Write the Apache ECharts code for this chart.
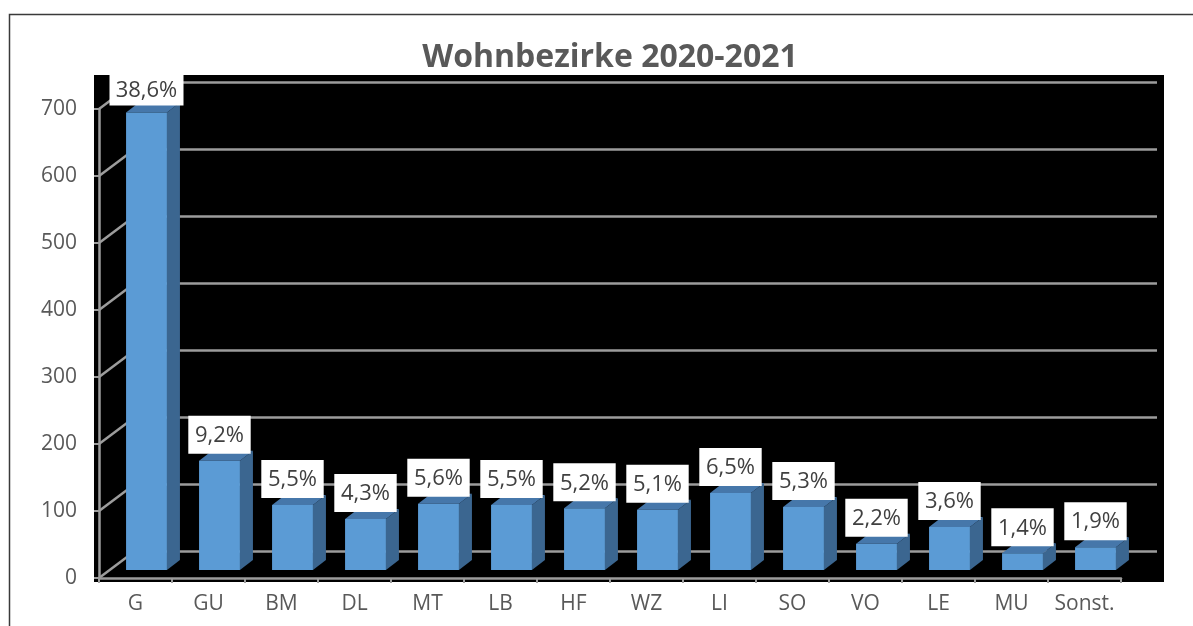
<!DOCTYPE html>
<html>
<head>
<meta charset="utf-8">
<script src="https://cdn.jsdelivr.net/npm/echarts@6/dist/echarts.min.js"></script>
<style>
  html, body { margin: 0; padding: 0; background: #ffffff; }
  #chart { width: 1193px; height: 626px; }
</style>
</head>
<body>
<div id="chart"></div>
<script>
// ---- data ----
const categories = ['G', 'GU', 'BM', 'DL', 'MT', 'LB', 'HF', 'WZ', 'LI', 'SO', 'VO', 'LE', 'MU', 'Sonst.'];
const values = [683, 163, 97, 76, 99, 97, 92, 90, 115, 94, 39, 64, 25, 34];
const pctLabels = ['38,6%', '9,2%', '5,5%', '4,3%', '5,6%', '5,5%', '5,2%', '5,1%', '6,5%', '5,3%', '2,2%', '3,6%', '1,4%', '1,9%'];
const yTicks = [0, 100, 200, 300, 400, 500, 600, 700];
const titleText = 'Wohnbezirke 2020-2021';

// ---- layout / style constants ----
const FONT = '"Open Sans", "Noto Sans", sans-serif';
const GRID_COLOR = '#9c9c9c';
const WALL_DX = 36, WALL_DY = -27;      // back wall offset
const BAR_DX = 11, BAR_DY = -8;          // bar front face offset
const BAR_DEPTH_X = 13, BAR_DEPTH_Y = -10;
const BAR_FRAC = 0.56;

const chart = echarts.init(document.getElementById('chart'), null, { renderer: 'canvas' });

const option = {
  animation: false,
  backgroundColor: '#ffffff',
  title: {
    text: titleText,
    left: 605,
    top: 37,
    textAlign: 'center',
    textStyle: { color: '#595959', fontFamily: FONT, fontWeight: 'bold', fontSize: 32 }
  },
  graphic: [
    { type: 'rect', z: -10, silent: true,
      shape: { x: 9.5, y: 14.5, width: 1300, height: 700 },
      style: { fill: '#ffffff', stroke: '#3a3a3a', lineWidth: 1.5 } },
    { type: 'rect', z: -9, silent: true,
      shape: { x: 94, y: 75, width: 1070, height: 507 },
      style: { fill: '#000000' } }
  ],
  grid: [
    { left: 99, right: 72, top: 109, bottom: 48 },
    { left: 99 + WALL_DX, right: 72 - WALL_DX, top: 109 + WALL_DY, bottom: 48 - WALL_DY }
  ],
  xAxis: [
    {
      type: 'category', gridIndex: 0, data: categories,
      axisLine: { show: true, lineStyle: { color: GRID_COLOR, width: 2.5 } },
      axisTick: { show: true, length: 5, lineStyle: { color: GRID_COLOR, width: 2 } },
      axisLabel: { color: '#595959', fontFamily: FONT, fontSize: 21, margin: 16, interval: 0 },
      splitLine: { show: false }
    },
    {
      type: 'category', gridIndex: 1, data: categories, show: false
    }
  ],
  yAxis: [
    {
      type: 'value', gridIndex: 0, min: 0, max: 700, interval: 100,
      axisLine: { show: true, lineStyle: { color: GRID_COLOR, width: 2.5 } },
      axisTick: { show: true, length: 5, lineStyle: { color: GRID_COLOR, width: 2 } },
      axisLabel: { color: '#595959', fontFamily: FONT, fontSize: 21, margin: 22 },
      splitLine: { show: false }
    },
    {
      type: 'value', gridIndex: 1, min: 0, max: 700, interval: 100,
      axisLine: { show: false }, axisTick: { show: false }, axisLabel: { show: false },
      splitLine: { show: true, lineStyle: { color: GRID_COLOR, width: 2.5 } }
    }
  ],
  series: [
    {
      // left wall diagonals joining front axis ticks to the back wall grid lines
      type: 'custom', xAxisIndex: 0, yAxisIndex: 0, z: 2, clip: false, silent: true,
      data: yTicks.map(v => [0, v]),
      renderItem: function (params, api) {
        const p = api.coord([0, api.value(1)]);
        const left = p[0] - api.size([1, 0])[0] / 2;
        return {
          type: 'line',
          shape: { x1: left, y1: p[1], x2: left + WALL_DX, y2: p[1] + WALL_DY },
          style: { stroke: GRID_COLOR, lineWidth: 2.5 }
        };
      }
    },
    {
      // 3D bars with percentage labels
      type: 'custom', xAxisIndex: 0, yAxisIndex: 0, z: 5, clip: false, silent: true,
      data: values.map((v, i) => [i, v]),
      renderItem: function (params, api) {
        const i = api.value(0);
        const v = api.value(1);
        const p0 = api.coord([i, 0]);
        const p1 = api.coord([i, v]);
        const w = api.size([1, 0])[0] * BAR_FRAC;
        const xl = p0[0] + BAR_DX - w / 2;
        const xr = xl + w;
        const yb = p0[1] + BAR_DY;
        const yt = p1[1] + BAR_DY;
        const lab = pctLabels[params.dataIndex];
        const labelBottom = yt - 7;
        const boxH = 38;
        const labelTop = Math.max(labelBottom - boxH, 75);
        return {
          type: 'group',
          children: [
            { type: 'polygon',
              shape: { points: [[xr, yt], [xr + BAR_DEPTH_X, yt + BAR_DEPTH_Y], [xr + BAR_DEPTH_X, yb + BAR_DEPTH_Y], [xr, yb]] },
              style: { fill: '#3b6690' } },
            { type: 'polygon',
              shape: { points: [[xl, yt], [xr, yt], [xr + BAR_DEPTH_X, yt + BAR_DEPTH_Y], [xl + BAR_DEPTH_X, yt + BAR_DEPTH_Y]] },
              style: { fill: '#4677aa' } },
            { type: 'rect',
              shape: { x: xl, y: yt, width: w, height: yb - yt },
              style: { fill: '#5b9bd5' } },
            { type: 'rect', z2: 9,
              shape: { x: (xl + xr) / 2 - (lab.length * 11.6 + 16) / 2, y: labelTop,
                       width: lab.length * 11.6 + 16, height: labelBottom - labelTop },
              style: { fill: '#ffffff' } },
            { type: 'text', z2: 10,
              x: (xl + xr) / 2, y: (labelTop + labelBottom) / 2 + 1,
              style: {
                text: lab, fill: '#404040', font: '22px ' + FONT,
                align: 'center', verticalAlign: 'middle'
              } }
          ]
        };
      }
    }
  ]
};

chart.setOption(option);
</script>
</body>
</html>
